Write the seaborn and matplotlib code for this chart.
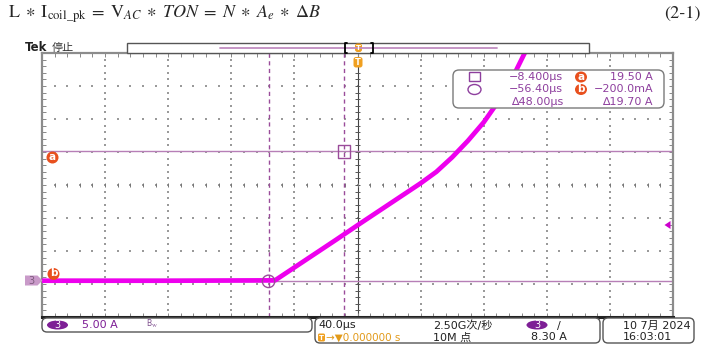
import numpy as np
import pandas as pd
import matplotlib
matplotlib.use("Agg")
import matplotlib.pyplot as plt
import seaborn as sns
from matplotlib.patches import FancyBboxPatch, Rectangle, Circle, Polygon, Ellipse

# ---------------- data ----------------
time_us = [-200.0, -120.0, -52.3, -13.6, 0.0, 40.0, 50.0, 60.0, 70.0, 80.0, 90.0, 100.0, 106.0, 109.0]
current_a = [-0.1, -0.1, -0.05, 6.1, 8.3, 14.66, 16.4, 18.6, 21.1, 23.9, 27.3, 31.5, 34.4, 36.0]

cursor_a_time_us = -8.4
cursor_b_time_us = -56.4
cursor_a_level = 19.5
cursor_b_level = -0.2
trigger_level_a = 8.3

readout_times = ["\u22128.400\u00b5s", "\u221256.40\u00b5s", "\u220648.00\u00b5s"]
readout_levels = ["19.50 A", "\u2212200.0mA", "\u220619.70 A"]

time_per_div_us = 40.0
amp_per_div = 5.0
x_lim = (-200.0, 200.0)
y_lim = (-5.6, 34.4)

sns.set_style("white")
plt.rcParams["font.family"] = ["DejaVu Sans", "Noto Sans CJK SC"]
plt.rcParams["mathtext.fontset"] = "stix"

W, H = 712, 348
fig = plt.figure(figsize=(W / 100, H / 100), dpi=100)
fig.patch.set_facecolor("white")

L, R, T, B = 42, 673, 53, 317
ax = fig.add_axes([L / W, (H - B) / H, (R - L) / W, (B - T) / H])
ax.set_xlim(*x_lim)
ax.set_ylim(*y_lim)
ax.set_xticks([])
ax.set_yticks([])
for s in ["left", "right", "top"]:
    ax.spines[s].set_color("#8c8c8c")
    ax.spines[s].set_linewidth(1.6)
ax.spines["bottom"].set_color("#222222")
ax.spines["bottom"].set_linewidth(2.2)

# graticule
grid_c = "#9a9a9a"
xdiv = np.arange(x_lim[0], x_lim[1] + 0.1, time_per_div_us)
ydiv = y_lim[0] + amp_per_div * np.arange(0, 9)
x_minor = np.arange(x_lim[0], x_lim[1] + 0.1, time_per_div_us / 5)
y_minor = y_lim[0] + (amp_per_div / 5) * np.arange(0, 41)
xc = 0.0
yc = ydiv[4]
for yv in ydiv[1:-1]:
    ax.scatter(x_minor, np.full_like(x_minor, yv), s=1.2, marker="s", color=grid_c, linewidths=0, zorder=1)
for xv in xdiv[1:-1]:
    if abs(xv - xc) < 1e-6:
        continue
    ax.scatter(np.full_like(y_minor, xv), y_minor, s=1.2, marker="s", color=grid_c, linewidths=0, zorder=1)
# center crosshair
ax.axvline(xc, color="#444444", lw=0.8, zorder=1)
dx = 1.3
dy = 0.3
ax.hlines(y_minor, xc - dx, xc + dx, color="#555555", lw=0.7, zorder=1)
ax.vlines(x_minor, yc - dy, yc + dy, color="#777777", lw=0.7, zorder=1)
# border ticks
ax.hlines(y_minor, x_lim[0], x_lim[0] + 2 * dx, color="#888888", lw=0.7, zorder=1)
ax.hlines(y_minor, x_lim[1] - 2 * dx, x_lim[1], color="#888888", lw=0.7, zorder=1)
ax.vlines(x_minor, y_lim[0], y_lim[0] + 2 * dy, color="#888888", lw=0.7, zorder=1)
ax.vlines(x_minor, y_lim[1] - 2 * dy, y_lim[1], color="#888888", lw=0.7, zorder=1)

# cursors
cur_c = "#9a4c9a"
ax.axhline(cursor_a_level, color="#b77fb7", lw=1.0, zorder=2)
ax.axhline(cursor_b_level, color="#b77fb7", lw=1.0, zorder=2)
ax.axvline(cursor_a_time_us, color=cur_c, lw=1.0, ls=(0, (3, 2.5)), zorder=2)
ax.axvline(cursor_b_time_us, color=cur_c, lw=1.0, ls=(0, (3, 2.5)), zorder=2)

# waveform
df = pd.DataFrame({"t": time_us, "i": current_a})
sns.lineplot(data=df, x="t", y="i", ax=ax, color="#ee00ee", lw=3.4, sort=False,
             estimator=None, zorder=3, solid_capstyle="butt", solid_joinstyle="round")
ax.set_xlabel("")
ax.set_ylabel("")
ax.scatter([cursor_a_time_us], [cursor_a_level], marker="s", s=80, facecolors="none",
           edgecolors=cur_c, linewidths=1.0, zorder=4)
ax.scatter([cursor_b_time_us], [cursor_b_level], marker="o", s=80, facecolors="none",
           edgecolors=cur_c, linewidths=1.0, zorder=4)

# ---------------- overlay in pixel coords ----------------
ov = fig.add_axes([0, 0, 1, 1], zorder=10)
ov.set_xlim(0, W)
ov.set_ylim(H, 0)
ov.axis("off")
ov.patch.set_alpha(0)

eq = (r"$\mathrm{L}\;\ast\;\mathrm{I}_{\mathrm{coil\_pk}}\;=\;\mathrm{V}_{AC}\;\ast\;TON\;=\;"
      r"N\;\ast\;A_e\;\ast\;\Delta B$")
ov.text(8, 14, eq, fontsize=13, va="center", ha="left")
ov.text(664, 14, "(2-1)", fontsize=13, va="center", ha="left", family="STIXGeneral")

ov.text(25, 47.5, "Tek", fontsize=8.5, fontweight="bold", va="center", ha="left", color="#222222")
ov.text(52, 47.5, "停止", fontsize=8, va="center", ha="left", color="#333333",
        family=["Noto Sans CJK SC", "DejaVu Sans"])

# record bar
ov.add_patch(Rectangle((127, 43), 462, 10, facecolor="white", edgecolor="#555555", lw=1.0))
ov.plot([220, 497], [47.5, 47.5], color="#c08cc0", lw=1.3)
ov.plot([347, 344.5, 344.5, 347], [43, 43, 53, 53], color="black", lw=1.3)
ov.plot([370.5, 373, 373, 370.5], [43, 43, 53, 53], color="black", lw=1.3)
orange = "#f0a020"
ov.add_patch(FancyBboxPatch((355, 43.5), 7, 8.5, boxstyle="round,pad=0,rounding_size=2.5",
                            facecolor=orange, edgecolor="none"))
ov.text(358.5, 47.8, "T", fontsize=5, color="white", ha="center", va="center", fontweight="bold")
ov.add_patch(FancyBboxPatch((353.5, 57), 9, 10.5, boxstyle="round,pad=0,rounding_size=2.5",
                            facecolor=orange, edgecolor="none"))
ov.text(358, 62.3, "T", fontsize=6, color="white", ha="center", va="center", fontweight="bold")

# left markers
red = "#e8501e"
for (cx, cy, lab) in [(52.5, 157.5, "a"), (53.5, 274, "b")]:
    ov.add_patch(Circle((cx, cy), 6, facecolor=red, edgecolor="none"))
    ov.text(cx, cy - 0.5, lab, fontsize=7.5, color="white", ha="center", va="center", fontweight="bold")
ov.add_patch(Polygon([(25, 275.5), (37.5, 275.5), (42.5, 280.5), (37.5, 285.5), (25, 285.5)],
                     closed=True, facecolor="#c99ac9", edgecolor="none"))
ov.text(31, 280.7, "3", fontsize=7, color="#7d5a7d", ha="center", va="center")

# trigger level arrow
ov.add_patch(Polygon([(664.5, 225), (670.5, 221), (670.5, 229)], closed=True,
                     facecolor="#cc00cc", edgecolor="none"))

# cursor readout box
pur = "#8e3f9e"
ov.add_patch(FancyBboxPatch((453, 70), 211, 38, boxstyle="round,pad=0,rounding_size=6",
                            facecolor="white", edgecolor="#7a7a7a", lw=1.0))
ov.add_patch(Rectangle((469, 72), 11, 9, facecolor="none", edgecolor=pur, lw=1.0))
ov.add_patch(Ellipse((474.5, 89.5), 13, 10, facecolor="none", edgecolor=pur, lw=1.0))
rows_y = [77, 89.5, 102]
for k in range(3):
    ov.text(563, rows_y[k], readout_times[k], fontsize=8, color=pur, ha="right", va="center")
    ov.text(653, rows_y[k], readout_levels[k], fontsize=8, color=pur, ha="right", va="center")
for (cy, lab) in [(rows_y[0], "a"), (rows_y[1], "b")]:
    ov.add_patch(Ellipse((581, cy), 12, 11, facecolor=red, edgecolor="none"))
    ov.text(581, cy - 0.5, lab, fontsize=7.5, color="white", ha="center", va="center", fontweight="bold")

# status bar
def rbox(x0, y0, x1, y1):
    ov.add_patch(FancyBboxPatch((x0, y0), x1 - x0, y1 - y0, boxstyle="round,pad=0,rounding_size=5",
                                facecolor="white", edgecolor="#555555", lw=1.0))

rbox(42, 318, 312, 332)
rbox(315, 318, 600, 343)
rbox(603, 318, 694, 343)
ch_c = "#7e1f96"
ov.add_patch(Ellipse((57.5, 325), 21, 9, facecolor=ch_c, edgecolor="none"))
ov.text(57.5, 325.3, "3", fontsize=7, color="white", ha="center", va="center")
ov.text(82, 325.5, "5.00 A", fontsize=8, color=ch_c, ha="left", va="center")
ov.text(146, 324, r"B$_\mathrm{W}$", fontsize=5.5, color="#7e4f8e", ha="left", va="center")

ov.text(318, 325.5, "40.0\u00b5s", fontsize=8, color="#222222", ha="left", va="center")
ov.add_patch(FancyBboxPatch((318, 333.5), 7, 8, boxstyle="round,pad=0,rounding_size=1.5",
                            facecolor=orange, edgecolor="none"))
ov.text(321.5, 337.7, "T", fontsize=5, color="white", ha="center", va="center", fontweight="bold")
ov.text(326, 337.7, "\u2192\u25bc0.000000 s", fontsize=7.5, color="#e29a1a", ha="left", va="center")
ov.text(433, 325.5, "2.50G次/秒", fontsize=8, color="#222222", ha="left", va="center",
        family=["DejaVu Sans", "Noto Sans CJK SC"])
ov.text(433, 337.5, "10M 点", fontsize=8, color="#222222", ha="left", va="center",
        family=["DejaVu Sans", "Noto Sans CJK SC"])
ov.add_patch(Ellipse((537, 325), 21, 9, facecolor=ch_c, edgecolor="none"))
ov.text(537, 325.3, "3", fontsize=7, color="white", ha="center", va="center")
ov.text(557, 325.5, "/", fontsize=8, color="#222222", ha="left", va="center")
ov.text(567, 337.5, "8.30 A", fontsize=8, color="#222222", ha="right", va="center")
ov.text(623, 325.5, "10 7月 2024", fontsize=8, color="#222222", ha="left", va="center",
        family=["DejaVu Sans", "Noto Sans CJK SC"])
ov.text(623, 337.5, "16:03:01", fontsize=8, color="#222222", ha="left", va="center")

fig.savefig("out.png", dpi=100)
